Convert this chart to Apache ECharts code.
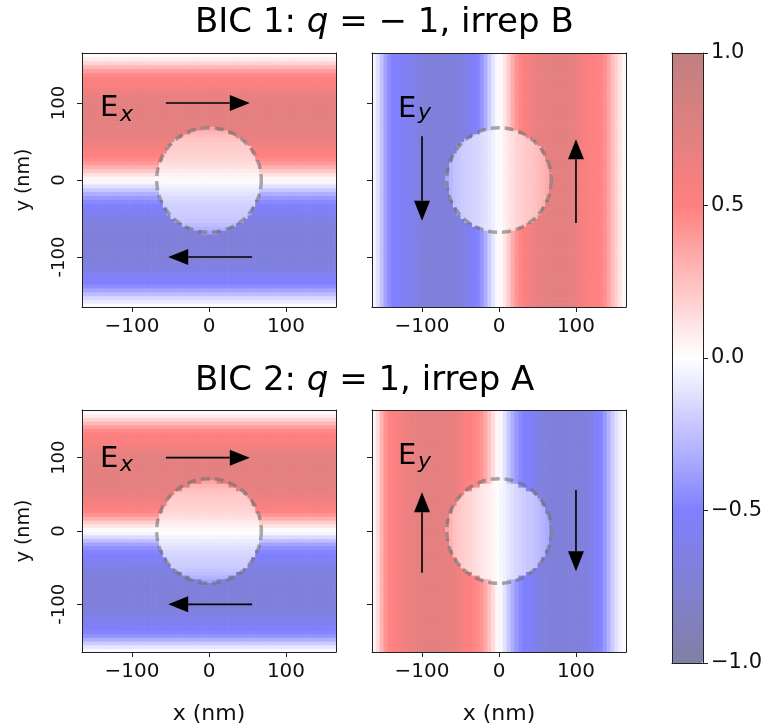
<!DOCTYPE html>
<html><head><meta charset="utf-8">
<script src="https://cdn.jsdelivr.net/npm/echarts@6/dist/echarts.min.js"></script>
<style>html,body{margin:0;padding:0;background:#fff}#chart{width:770px;height:726px}</style>
</head><body><div id="chart"></div>
<script>
const FONT = 'DejaVu Sans';

// ---- sample grid (cell centres in nm, 5 nm cells) ----
const cellCentersNm = [
  -162.5,-157.5,-152.5,-147.5,-142.5,-137.5,-132.5,-127.5,-122.5,-117.5,-112.5,
  -107.5,-102.5,-97.5,-92.5,-87.5,-82.5,-77.5,-72.5,-67.5,-62.5,-57.5,
  -52.5,-47.5,-42.5,-37.5,-32.5,-27.5,-22.5,-17.5,-12.5,-7.5,-2.5,
  2.5,7.5,12.5,17.5,22.5,27.5,32.5,37.5,42.5,47.5,52.5,
  57.5,62.5,67.5,72.5,77.5,82.5,87.5,92.5,97.5,102.5,107.5,
  112.5,117.5,122.5,127.5,132.5,137.5,142.5,147.5,152.5,157.5,162.5];
const cellSizeNm = 5;
const diskCentersNm = [-67.5,-62.5,-57.5,-52.5,-47.5,-42.5,-37.5,-32.5,-27.5,-22.5,-17.5,-12.5,-7.5,-2.5,
  2.5,7.5,12.5,17.5,22.5,27.5,32.5,37.5,42.5,47.5,52.5,57.5,62.5,67.5];
const diskRadiusNm = 68;
const axisMinNm = -165, axisMaxNm = 165;

// ---- tick labels ----
const xTickValues = [-100, 0, 100];
const xTickLabels = ['\u2212100', '0', '100'];
const yTickValues = [-100, 0, 100];
const yTickLabels = ['-100', '0', '100'];
const cbarTickValues = [-1, -0.5, 0, 0.5, 1];
const cbarTickLabels = ['\u22121.0', '\u22120.5', '0.0', '0.5', '1.0'];

// ---- BIC 1, Ex: varies along y (values at cellCentersNm in y) ----
const bic1ExOutside = [
  -0.02,-0.08,-0.16,-0.26,-0.36,-0.45,-0.5,-0.53,-0.57,-0.62,-0.66,
  -0.68,-0.7,-0.7,-0.71,-0.71,-0.71,-0.71,-0.7,-0.7,-0.69,-0.68,
  -0.66,-0.62,-0.57,-0.53,-0.5,-0.46,-0.4,-0.32,-0.22,-0.12,-0.03,
  0.03,0.12,0.22,0.32,0.4,0.46,0.5,0.53,0.57,0.62,0.66,
  0.68,0.69,0.7,0.7,0.71,0.71,0.71,0.71,0.7,0.7,0.68,
  0.65,0.6,0.55,0.52,0.5,0.46,0.38,0.28,0.16,0.08,0.02];
const bic1ExInside = [
  -0.36,-0.3,-0.26,-0.23,-0.21,-0.2,-0.19,-0.18,-0.16,-0.14,-0.11,-0.08,-0.05,-0.02,
  0.02,0.05,0.08,0.11,0.14,0.16,0.18,0.19,0.2,0.21,0.23,0.26,0.3,0.36];
// ---- BIC 1, Ey: varies along x ----
const bic1EyOutside = [
  -0.04,-0.12,-0.24,-0.36,-0.45,-0.5,-0.52,-0.54,-0.55,-0.57,-0.6,
  -0.64,-0.68,-0.7,-0.71,-0.71,-0.71,-0.71,-0.71,-0.7,-0.7,-0.69,
  -0.68,-0.66,-0.62,-0.56,-0.52,-0.48,-0.42,-0.32,-0.2,-0.1,-0.02,
  0.02,0.1,0.2,0.32,0.42,0.48,0.52,0.56,0.62,0.66,0.68,
  0.69,0.7,0.7,0.71,0.71,0.71,0.71,0.7,0.68,0.64,0.58,
  0.54,0.52,0.51,0.5,0.48,0.44,0.36,0.26,0.18,0.1,0.03];
const bic1EyInside = [
  -0.34,-0.28,-0.24,-0.22,-0.2,-0.19,-0.18,-0.17,-0.16,-0.14,-0.12,-0.09,-0.06,-0.02,
  0.02,0.06,0.1,0.13,0.16,0.18,0.2,0.22,0.23,0.25,0.27,0.3,0.33,0.38];
// ---- BIC 2, Ex ----
const bic2ExOutside = [
  -0.03,-0.1,-0.2,-0.32,-0.42,-0.48,-0.52,-0.55,-0.58,-0.62,-0.66,
  -0.69,-0.7,-0.71,-0.71,-0.71,-0.71,-0.71,-0.7,-0.7,-0.69,-0.68,
  -0.66,-0.63,-0.58,-0.54,-0.51,-0.48,-0.44,-0.36,-0.25,-0.14,-0.04,
  0.02,0.1,0.2,0.32,0.42,0.48,0.52,0.56,0.6,0.64,0.67,
  0.69,0.7,0.7,0.71,0.71,0.71,0.71,0.7,0.7,0.69,0.67,
  0.63,0.58,0.54,0.52,0.5,0.46,0.38,0.28,0.17,0.08,0.02];
const bic2ExInside = [
  -0.36,-0.3,-0.26,-0.23,-0.2,-0.19,-0.18,-0.17,-0.15,-0.13,-0.1,-0.07,-0.04,-0.01,
  0.02,0.05,0.08,0.11,0.14,0.16,0.18,0.19,0.2,0.21,0.23,0.26,0.3,0.36];
// ---- BIC 2, Ey ----
const bic2EyOutside = [
  0.04,0.14,0.3,0.42,0.48,0.51,0.53,0.56,0.6,0.64,0.67,
  0.69,0.7,0.71,0.71,0.71,0.71,0.7,0.7,0.69,0.68,0.66,
  0.62,0.56,0.52,0.5,0.48,0.46,0.42,0.34,0.24,0.14,0.04,
  -0.03,-0.12,-0.22,-0.32,-0.4,-0.46,-0.5,-0.52,-0.55,-0.6,-0.65,
  -0.68,-0.7,-0.7,-0.71,-0.71,-0.71,-0.71,-0.71,-0.7,-0.7,-0.69,
  -0.67,-0.64,-0.58,-0.52,-0.48,-0.4,-0.3,-0.2,-0.12,-0.06,-0.02];
const bic2EyInside = [
  0.36,0.3,0.25,0.22,0.2,0.18,0.16,0.14,0.12,0.1,0.08,0.06,0.04,0.01,
  -0.03,-0.06,-0.1,-0.13,-0.16,-0.18,-0.2,-0.22,-0.23,-0.25,-0.27,-0.3,-0.33,-0.38];

// ---- arrows: [tail, tip] in nm ----
const bic1ExArrows = [[[-56,100],[53,100]], [[56,-100],[-53,-100]]];
const bic1EyArrows = [[[-100,57],[-100,-53]], [[100,-56],[100,53]]];
const bic2ExArrows = [[[-56,100],[53,100]], [[56,-100],[-53,-100]]];
const bic2EyArrows = [[[-100,-57],[-100,53]], [[100,56],[100,-55]]];

// ---- seismic colormap at alpha 0.5 over white ----
const cmapColors = ['#8080a6', '#8080ff', '#ffffff', '#ff8080', '#bf8080'];

const panels = [
  {outside: bic1ExOutside, inside: bic1ExInside, along: 'y', arrows: bic1ExArrows},
  {outside: bic1EyOutside, inside: bic1EyInside, along: 'x', arrows: bic1EyArrows},
  {outside: bic2ExOutside, inside: bic2ExInside, along: 'y', arrows: bic2ExArrows},
  {outside: bic2EyOutside, inside: bic2EyInside, along: 'x', arrows: bic2EyArrows}
];
const gridBoxes = [
  {left: 82, top: 53, width: 254, height: 254},
  {left: 372, top: 53, width: 254, height: 254},
  {left: 82, top: 410, width: 254, height: 253},
  {left: 372, top: 410, width: 254, height: 253},
  {left: 672, top: 53, width: 31, height: 610}
];

function buildCells(p) {
  const out = [];
  for (let i = 0; i < cellCentersNm.length; i++) {
    for (let j = 0; j < cellCentersNm.length; j++) {
      const x = cellCentersNm[i], y = cellCentersNm[j];
      const k = p.along === 'y' ? j : i;
      let v = p.outside[k];
      if (Math.hypot(x, y) < diskRadiusNm) {
        const di = diskCentersNm.indexOf(cellCentersNm[k]);
        if (di >= 0) v = p.inside[di];
      }
      out.push([x, y, v]);
    }
  }
  return out;
}

function renderCell(params, api) {
  const c = api.coord([api.value(0), api.value(1)]);
  const s = api.size([cellSizeNm, cellSizeNm]);
  return {type: 'rect', shape: {x: c[0] - s[0] / 2, y: c[1] - s[1] / 2, width: s[0] + 0.6, height: s[1] + 0.6},
          style: {fill: api.visual('color')}};
}

function makeOverlay(arrows) {
  return function (params, api) {
    const c = api.coord([0, 0]);
    const r = api.size([diskRadiusNm, 0])[0];
    const children = [{type: 'circle', shape: {cx: c[0], cy: c[1], r: r},
      style: {fill: 'none', stroke: 'rgba(112,112,112,0.6)', lineWidth: 3.5, lineDash: [9, 5]}}];
    const headLen = 20, headHalf = 8;
    arrows.forEach(a => {
      const t0 = api.coord(a[0]), t1 = api.coord(a[1]);
      const dx = t1[0] - t0[0], dy = t1[1] - t0[1];
      const L = Math.hypot(dx, dy), ux = dx / L, uy = dy / L;
      const bx = t1[0] - ux * headLen, by = t1[1] - uy * headLen;
      children.push({type: 'line', shape: {x1: t0[0], y1: t0[1], x2: bx, y2: by},
        style: {stroke: '#000', lineWidth: 1.6}});
      children.push({type: 'polygon', shape: {points: [[t1[0], t1[1]], [bx - uy * headHalf, by + ux * headHalf], [bx + uy * headHalf, by - ux * headHalf]]},
        style: {fill: '#000'}});
    });
    return {type: 'group', children: children};
  };
}

const frameLine = {show: true, onZero: false, lineStyle: {color: '#222', width: 1}};
const tickStyle = {show: true, length: 5, lineStyle: {color: '#222', width: 1}};
const xAxes = [], yAxes = [], series = [];

panels.forEach((p, g) => {
  const isLeft = g % 2 === 0, isBottom = g >= 2;
  xAxes.push({
    gridIndex: g, type: 'value', position: 'bottom', min: axisMinNm, max: axisMaxNm, z: 10,
    axisLine: frameLine, splitLine: {show: false},
    axisTick: Object.assign({customValues: xTickValues}, tickStyle),
    axisLabel: {customValues: xTickValues, margin: 10, fontFamily: FONT, fontSize: 20, color: '#111',
      formatter: v => xTickLabels[xTickValues.indexOf(v)]},
    name: isBottom ? 'x (nm)' : '', nameLocation: 'middle', nameGap: 51,
    nameTextStyle: {fontFamily: FONT, fontSize: 22, color: '#111'}
  });
  xAxes.push({gridIndex: g, type: 'value', position: 'top', min: axisMinNm, max: axisMaxNm, z: 10,
    axisLine: frameLine, axisTick: {show: false}, axisLabel: {show: false}, splitLine: {show: false}});
  yAxes.push({
    gridIndex: g, type: 'value', position: 'left', min: axisMinNm, max: axisMaxNm, z: 10,
    axisLine: frameLine, splitLine: {show: false},
    axisTick: Object.assign({customValues: yTickValues}, tickStyle),
    axisLabel: {show: isLeft, customValues: yTickValues, rotate: 90, margin: 14, fontFamily: FONT, fontSize: 18, color: '#111',
      formatter: v => yTickLabels[yTickValues.indexOf(v)]},
    name: isLeft ? 'y (nm)' : '', nameLocation: 'middle', nameGap: 48,
    nameTextStyle: {fontFamily: FONT, fontSize: 19, color: '#111'}
  });
  yAxes.push({gridIndex: g, type: 'value', position: 'right', min: axisMinNm, max: axisMaxNm, z: 10,
    axisLine: frameLine, axisTick: {show: false}, axisLabel: {show: false}, splitLine: {show: false}});
});
// colorbar frame + ticks
xAxes.push({gridIndex: 4, type: 'value', position: 'bottom', min: 0, max: 1, z: 10, axisLine: frameLine,
  axisTick: {show: false}, axisLabel: {show: false}, splitLine: {show: false}});
xAxes.push({gridIndex: 4, type: 'value', position: 'top', min: 0, max: 1, z: 10, axisLine: frameLine,
  axisTick: {show: false}, axisLabel: {show: false}, splitLine: {show: false}});
yAxes.push({gridIndex: 4, type: 'value', position: 'left', min: -1, max: 1, z: 10, axisLine: frameLine,
  axisTick: {show: false}, axisLabel: {show: false}, splitLine: {show: false}});
yAxes.push({gridIndex: 4, type: 'value', position: 'right', min: -1, max: 1, interval: 0.5, z: 10, axisLine: frameLine,
  axisTick: tickStyle, splitLine: {show: false},
  axisLabel: {margin: 8, fontFamily: FONT, fontSize: 21, color: '#111',
    formatter: v => cbarTickLabels[cbarTickValues.indexOf(v)]}});

panels.forEach((p, g) => {
  series.push({
    type: 'custom', coordinateSystem: 'cartesian2d', xAxisIndex: 2 * g, yAxisIndex: 2 * g,
    clip: true, silent: true, animation: false, encode: {x: 0, y: 1}, dimensions: ['x', 'y', 'v'],
    renderItem: renderCell, data: buildCells(p)
  });
});
panels.forEach((p, g) => {
  series.push({
    type: 'custom', coordinateSystem: 'cartesian2d', xAxisIndex: 2 * g, yAxisIndex: 2 * g,
    silent: true, animation: false, z: 5, renderItem: makeOverlay(p.arrows), data: [[0, 0]]
  });
});
series.push({type: 'scatter', xAxisIndex: 8, yAxisIndex: 8, data: []});

const titleRich = {n: {fontFamily: FONT, fontSize: 34, fill: '#000'}, i: {fontFamily: FONT, fontSize: 34, fontStyle: 'italic', fill: '#000'}};
function compLabel(x, yE, comp, ySub) {
  return [
    {type: 'text', x: x, y: yE, silent: true, z: 20, style: {text: 'E', font: '29px "DejaVu Sans"', fill: '#000', verticalAlign: 'top'}},
    {type: 'text', x: x + 20, y: ySub, silent: true, z: 20, style: {text: comp, font: 'italic 22px "DejaVu Sans"', fill: '#000', verticalAlign: 'top'}}
  ];
}

const option = {
  backgroundColor: '#fff',
  animation: false,
  grid: gridBoxes.map(b => Object.assign({containLabel: false}, b)),
  xAxis: xAxes, yAxis: yAxes,
  visualMap: {type: 'continuous', min: -1, max: 1, dimension: 2, seriesIndex: [0, 1, 2, 3],
    inRange: {color: cmapColors}, calculable: false, hoverLink: false, padding: 0,
    left: 672, top: 53, itemWidth: 31, itemHeight: 610, z: 4},
  graphic: [
    {type: 'text', x: 195, y: 40, silent: true, style: {text: '{n|BIC 1: }{i|q}{n| = \u2212 1, irrep B}', rich: titleRich, verticalAlign: 'bottom'}},
    {type: 'text', x: 195, y: 398, silent: true, style: {text: '{n|BIC 2: }{i|q}{n| = 1, irrep A}', rich: titleRich, verticalAlign: 'bottom'}}
  ].concat(compLabel(100, 94, 'x', 104), compLabel(398, 95, 'y', 102), compLabel(100, 445, 'x', 454), compLabel(398, 442, 'y', 451)),
  series: series
};
const chart = echarts.init(document.getElementById('chart'), null, {renderer: 'canvas'});
chart.setOption(option);
</script></body></html>
